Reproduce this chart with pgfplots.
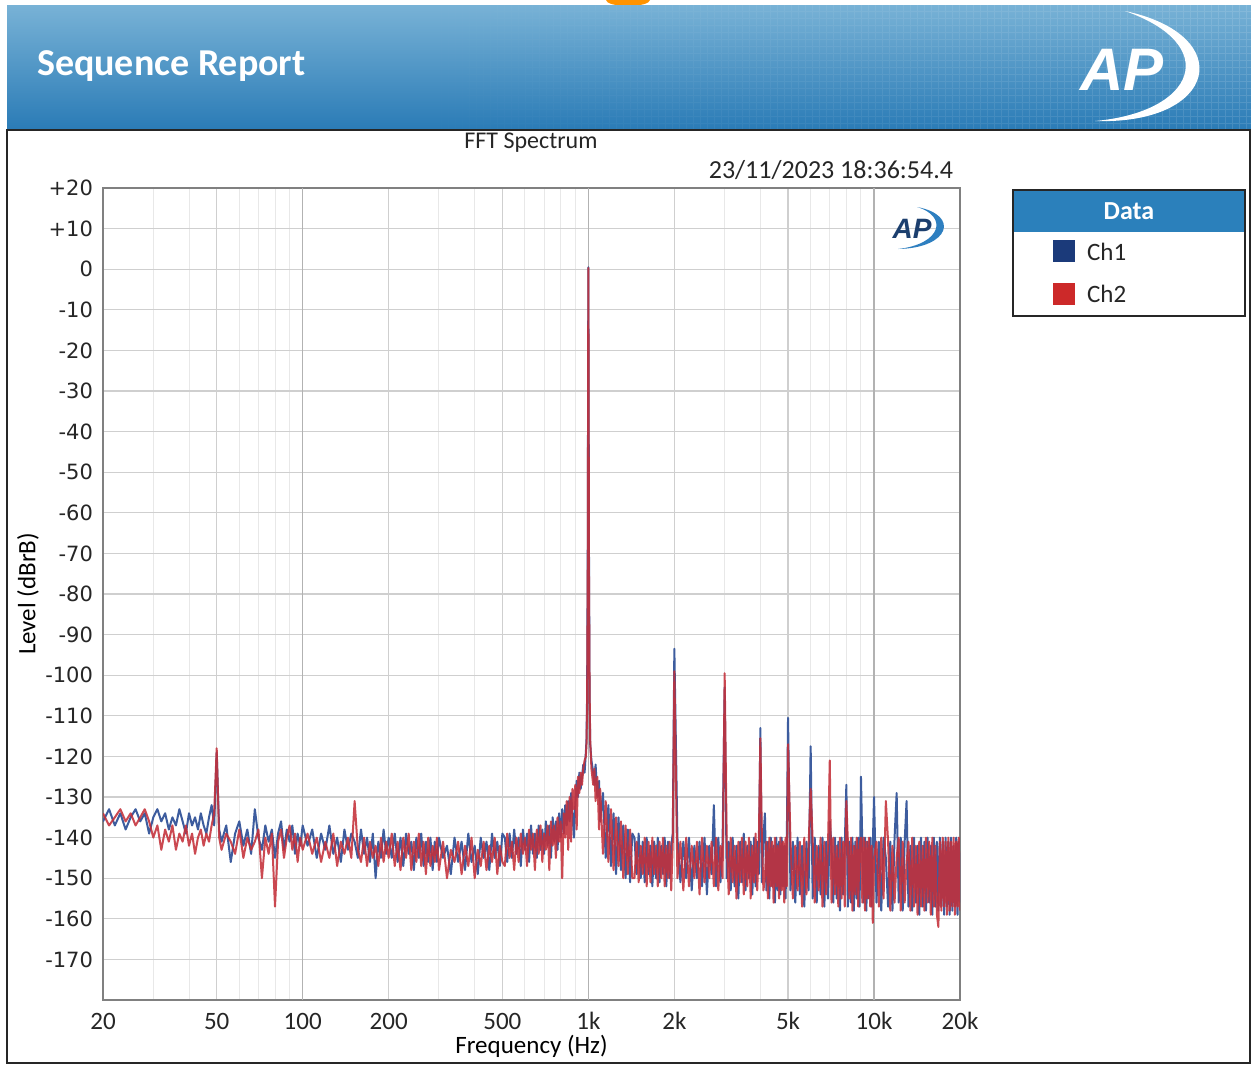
\documentclass[border=0pt]{standalone}
\usepackage{fontspec}
\setmainfont{Carlito}
\newfontfamily\dejavu{DejaVu Sans}
\newfontfamily\libsans{Liberation Sans}
\usepackage{pgfplots}
\pgfplotsset{compat=1.18}
\usepackage{pgfplotstable}
\usetikzlibrary{fadings}
\definecolor{chone}{HTML}{3D5C9E}
\definecolor{chtwo}{HTML}{C4303A}
\definecolor{bannertop}{HTML}{78B2D6}
\definecolor{bannerbot}{HTML}{2A7BB6}
\definecolor{legblue}{HTML}{2B80BB}
\definecolor{swone}{HTML}{1B3A7A}
\definecolor{swtwo}{HTML}{CC2929}
\definecolor{apnavy}{HTML}{1C3F6E}
\definecolor{aparc}{HTML}{2E7FC0}
\tikzfading[name=fadegrid, left color=transparent!100, right color=transparent!0]

\pgfplotstableread{
f a b
20 -136 -134
21 -133 -137
22 -137 -135
23 -134 -133
24 -138 -136
25 -135 -134
26 -133 -137
27 -136 -135
28 -134 -133
29 -139 -136
30 -135 -140
31 -133 -137
32 -136 -143
33 -134 -138
34 -138 -141
35 -135 -137
36 -137 -143
37 -133 -139
38 -136 -141
39 -139 -137
40 -134 -142
41 -137 -139
42 -135 -144
43 -138 -140
44 -134 -138
45 -137 -142
46 -139 -139
47 -135 -141
48 -132 -137
49 -137 -134
50 -119 -118
51 -138 -140
52 -141 -143
54 -137 -139
56 -146 -141
58 -139 -144
60 -136 -138
62 -142 -145
64 -138 -140
66 -144 -143
68 -133 -141
70 -140 -138
72 -143 -150
74 -137 -140
76 -141 -144
78 -138 -139
80 -145 -157
82 -139 -141
84 -136 -138
86 -143 -145
88 -138 -140
90 -141 -137
92 -137 -143
94 -144 -139
96 -139 -146
98 -142 -140
100 -137 -143
104 -142 -139
108 -138 -144
112 -145 -140
116 -139 -146
120 -143 -141
124 -137 -145
128 -144 -139
132 -140 -147
136 -146 -141
140 -138 -144
144 -143 -140
148 -139 -145
152 -141 -131
156 -145 -143
160 -138 -146
164 -144 -140
168 -140 -147
172 -146 -141
176 -139 -145
180 -150 -142
184 -141 -147
188 -145 -140
192 -138 -146
196 -144 -141
200 -140 -145
205 -145 -139
210 -139 -147
215 -146 -141
220 -140 -148
225 -147 -140
230 -139 -145
235 -144 -139
240 -141 -148
245 -148 -141
250 -140 -146
255 -145 -139
260 -139 -147
265 -147 -141
270 -141 -149
275 -146 -140
280 -140 -147
285 -148 -142
290 -141 -146
295 -146 -140
300 -140 -148
310 -145 -141
320 -142 -150
330 -149 -143
340 -140 -146
350 -146 -141
360 -141 -149
370 -148 -142
380 -139 -147
390 -146 -140
400 -142 -150
410 -149 -143
420 -140 -147
430 -145 -141
440 -141 -148
450 -148 -142
460 -139 -146
470 -145 -140
480 -141 -149
490 -147 -142
500 -139 -146
510 -140 -147
520 -146 -139
530 -139 -145
540 -145 -141
550 -138 -148
560 -144 -140
570 -140 -146
580 -147 -139
590 -138 -144
600 -143 -140
610 -139 -147
620 -146 -138
630 -137 -143
640 -144 -139
650 -139 -148
660 -145 -138
670 -137 -144
680 -143 -137
690 -138 -146
700 -144 -139
710 -136 -143
720 -142 -137
730 -137 -148
740 -145 -136
750 -135 -142
760 -141 -137
770 -136 -145
780 -143 -135
790 -134 -141
800 -140 -136
810 -133 -150
820 -139 -134
830 -132 -140
840 -137 -131
850 -131 -143
860 -136 -130
870 -129 -141
880 -134 -128
890 -140 -133
900 -132 -127
910 -126 -138
920 -130 -125
930 -124 -129
940 -128 -124
950 -125 -127
960 -122 -123
970 -124 -121
980 -119 -120
985 -116 -117
990 -105 -108
995 -70 -75
1000 0.5 0.3
1005 -70 -75
1010 -106 -104
1015 -117 -116
1025 -121 -123
1040 -124 -127
1050 -127 -123
1060 -122 -131
1075 -130 -125
1090 -126 -138
1100 -136 -128
1125 -129 -144
1150 -145 -131
1175 -132 -146
1200 -147 -133
1225 -134 -148
1250 -149 -135
1275 -135 -147
1300 -148 -136
1325 -137 -150
1350 -150 -137
1375 -138 -149
1400 -151 -138
1425 -139 -150
1450 -140 -150
1475 -149 -141
1500 -139 -151
1525 -150 -142
1550 -141 -149
1575 -151 -140
1600 -140 -152
1625 -149 -141
1650 -142 -151
1675 -152 -140
1700 -141 -149
1725 -150 -142
1750 -140 -152
1775 -151 -141
1800 -142 -150
1825 -149 -140
1850 -140 -152
1875 -152 -142
1900 -141 -150
1925 -150 -141
1950 -142 -153
1975 -139 -141
2000 -93.5 -99
2050 -140 -150
2100 -151 -141
2150 -141 -153
2200 -150 -140
2250 -140 -152
2300 -153 -142
2350 -142 -150
2400 -150 -141
2450 -141 -154
2500 -152 -140
2550 -140 -151
2600 -154 -142
2650 -142 -150
2700 -149 -141
2750 -132 -152
2800 -152 -140
2850 -140 -153
2900 -151 -142
2950 -141 -150
3000 -103 -99.5
3050 -150 -141
3100 -141 -154
3150 -153 -140
3200 -140 -151
3250 -152 -142
3300 -142 -155
3350 -155 -141
3400 -141 -151
3450 -151 -140
3500 -139 -154
3550 -153 -141
3600 -142 -152
3650 -150 -140
3700 -141 -155
3750 -154 -142
3800 -140 -151
3850 -152 -139
3900 -141 -153
3950 -149 -142
4000 -113 -115.5
4050 -151 -140
4100 -140 -153
4150 -134 -150
4200 -153 -141
4250 -141 -155
4300 -155 -140
4350 -140 -152
4400 -152 -141
4450 -142 -156
4500 -156 -140
4550 -140 -152
4600 -153 -142
4650 -141 -155
4700 -154 -140
4750 -140 -153
4800 -152 -141
4850 -142 -156
4900 -155 -140
4950 -141 -152
5000 -110.5 -117
5100 -153 -141
5200 -141 -155
5300 -156 -142
5400 -140 -153
5500 -154 -141
5600 -142 -157
5700 -157 -140
5800 -141 -154
5900 -153 -142
6000 -117.5 -128
6100 -155 -141
6200 -140 -156
6300 -156 -142
6400 -142 -153
6500 -154 -140
6600 -140 -157
6700 -157 -141
6800 -141 -154
6900 -155 -142
7000 -136 -121
7100 -142 -156
7200 -156 -140
7300 -140 -154
7400 -155 -142
7500 -141 -157
7600 -158 -140
7700 -140 -155
7800 -154 -141
7900 -142 -157
8000 -127 -131
8100 -157 -141
8200 -141 -155
8300 -156 -140
8400 -140 -158
8500 -158 -142
8600 -141 -154
8700 -155 -140
8800 -140 -157
8900 -157 -142
9000 -125 -140
9100 -142 -156
9200 -156 -140
9300 -140 -158
9400 -158 -141
9500 -141 -155
9600 -155 -140
9700 -140 -157
9800 -157 -142
9900 -142 -161
10000 -130 -145
10200 -156 -141
10400 -141 -157
10600 -158 -140
10800 -140 -155
11000 -145 -131
11200 -157 -141
11400 -141 -158
11600 -158 -142
11800 -140 -156
12000 -129 -145
12200 -156 -140
12400 -140 -158
12600 -158 -141
12800 -141 -156
13000 -131 -146
13200 -157 -141
13400 -142 -158
13600 -158 -140
13800 -140 -157
14000 -156 -142
14200 -142 -159
14400 -159 -141
14600 -140 -157
14800 -157 -142
15000 -141 -158
15200 -158 -140
15400 -140 -156
15600 -156 -141
15800 -142 -159
16000 -159 -140
16200 -140 -157
16400 -157 -142
16600 -141 -159
16800 -158 -162
17000 -140 -141
17200 -157 -158
17400 -141 -140
17600 -159 -157
17800 -140 -141
18000 -157 -159
18200 -141 -140
18400 -159 -158
18600 -140 -141
18800 -158 -157
19000 -142 -140
19200 -157 -159
19400 -140 -141
19600 -159 -157
19800 -141 -140
20000 -156 -158
}\spec

\begin{document}
\begin{tikzpicture}
\begin{scope}[x=0.5pt,y=-0.5pt]
\useasboundingbox (0,0) rectangle (1251,1067);
\fill[white] (0,0) rectangle (1251,1067);
\fill[orange!85!yellow] (628,0) ellipse [x radius=22, y radius=6];
\shade[top color=bannertop, bottom color=bannerbot] (7,5) rectangle (1251,130);
\begin{scope}
\clip (400,5) rectangle (1251,130);
\draw[white, opacity=0.12, line width=0.5pt, path fading=fadegrid, fit fading=true]
  \foreach \i in {0,...,122} {({400+7*\i},5) -- ({400+7*\i},130)}
  \foreach \j in {0,...,18} {(400,{5+7*\j}) -- (1251,{5+7*\j})};
\end{scope}
\node[anchor=west, text=white, font=\bfseries\fontsize{19}{22}\selectfont] at (30,66) {Sequence Report};
\node[text=white, font=\libsans\bfseries\itshape\fontsize{30}{32}\selectfont] at (1122,70) {AP};
\fill[white] (1125,11) .. controls (1238,35) and (1218,125) .. (1095,121) .. controls (1196,112) and (1222,45) .. (1125,11) -- cycle;
\end{scope}

\begin{axis}[
  at={(51.5pt,-500pt)}, anchor=south west,
  scale only axis, width=428.5pt, height=406pt,
  xmode=log, xmin=20, xmax=20000, ymin=-180, ymax=20,
  xtick={20,50,100,200,500,1000,2000,5000,10000,20000},
  xticklabels={20,50,100,200,500,1k,2k,5k,10k,20k},
  minor xtick={30,40,60,70,80,90,300,400,600,700,800,900,3000,4000,6000,7000,8000,9000},
  extra x ticks={100,1000,10000}, extra x tick labels={},
  extra x tick style={grid=major, major grid style={draw=black!30, line width=0.6pt}},
  ytick={-170,-160,...,20},
  yticklabels={-170,-160,-150,-140,-130,-120,-110,-100,-90,-80,-70,-60,-50,-40,-30,-20,-10,0,+10,+20},
  grid=both,
  major grid style={draw=black!19, line width=0.6pt},
  minor grid style={draw=black!9, line width=0.5pt},
  major tick length=0pt, minor tick length=0pt,
  axis line style={draw=black!50, line width=1pt},
  tick label style={text=black!85},
  xticklabel style={font=\fontsize{12.5}{13}\selectfont, text height=8pt, text depth=0pt, yshift=-3.2pt},
  yticklabel style={font=\dejavu\fontsize{10.5}{12}\selectfont, xshift=-1.5pt},
  xlabel={Frequency (Hz)}, ylabel={Level (dBrB)},
  xlabel style={font=\fontsize{12.5}{13}\selectfont, at={(axis description cs:0.5,-0.0567)}, anchor=center},
  ylabel style={font=\fontsize{12.5}{13}\selectfont, at={(axis description cs:-0.0875,0.5)}, anchor=center},
]
\addplot[chone, line width=1pt, line join=round] table[x=f,y=a]{\spec};
\addplot[chtwo, line width=1pt, line join=round, opacity=0.88] table[x=f,y=b]{\spec};
\end{axis}

\begin{scope}[x=0.5pt,y=-0.5pt]
\draw[black!85, line width=1pt] (7,130) rectangle (1250,1063);
\node[font=\fontsize{12}{13}\selectfont, text=black!85] at (531,143) {FFT Spectrum};
\node[anchor=east, font=\fontsize{13}{14}\selectfont, text=black!85] at (960,170) {23/11/2023 18:36:54.4};
\node[text=apnavy, font=\libsans\bfseries\itshape\fontsize{14}{15}\selectfont] at (912,229) {AP};
\fill[aparc] (917,207) .. controls (960,215) and (950,248) .. (898,249) .. controls (942,244) and (948,216) .. (917,207) -- cycle;
\fill[white] (1013,190) rectangle (1245,316);
\fill[legblue] (1013,190) rectangle (1245,232);
\draw[black!85, line width=1pt] (1013,190) rectangle (1245,316);
\node[text=white, font=\bfseries\fontsize{13}{14}\selectfont] at (1129,211) {Data};
\fill[swone] (1053,240) rectangle (1075,262);
\fill[swtwo] (1053,283) rectangle (1075,305);
\node[anchor=west, font=\fontsize{12.5}{14}\selectfont, text=black!85] at (1080,252) {Ch1};
\node[anchor=west, font=\fontsize{12.5}{14}\selectfont, text=black!85] at (1080,294) {Ch2};
\end{scope}
\end{tikzpicture}
\end{document}
